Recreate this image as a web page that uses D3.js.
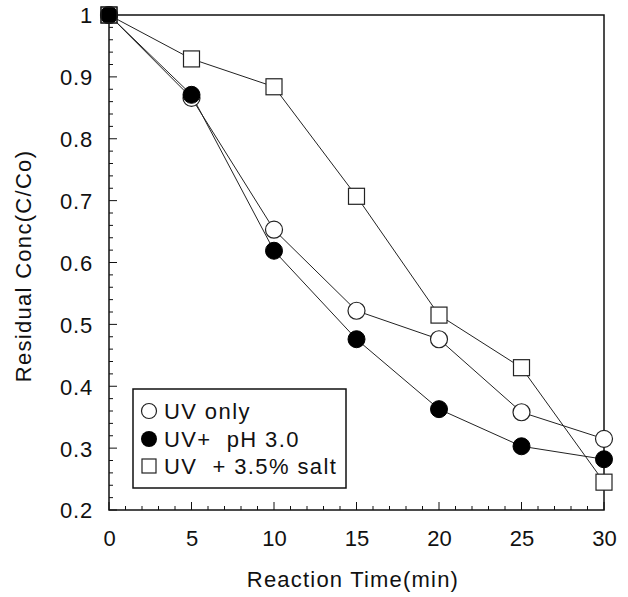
<!DOCTYPE html>
<html><head><meta charset="utf-8">
<script src="https://cdn.jsdelivr.net/npm/d3@7"></script>
<style>
html,body{margin:0;padding:0;background:#fff;}
text{font-family:"Liberation Sans",Arial,Helvetica,sans-serif;fill:#111;}
</style></head>
<body><svg id="chart" width="628" height="597"></svg>
<script>
const times = [0, 5, 10, 15, 20, 25, 30];
const uvOnly = [1.0, 0.866, 0.653, 0.522, 0.476, 0.358, 0.315];
const uvPh = [1.0, 0.871, 0.619, 0.476, 0.363, 0.303, 0.282];
const uvSalt = [1.0, 0.929, 0.884, 0.707, 0.515, 0.43, 0.245];
const xTicks = [0, 5, 10, 15, 20, 25, 30];
const yTicks = [0.2, 0.3, 0.4, 0.5, 0.6, 0.7, 0.8, 0.9, 1];
const legendLabels = ["UV only", "UV+  pH 3.0", "UV  + 3.5% salt"];
const xTitle = "Reaction Time(min)";
const yTitle = "Residual Conc(C/Co)";

const svg = d3.select("#chart");
const L = 109, R = 604, T = 15, B = 510;
const x = d3.scaleLinear().domain([0, 30]).range([L, R]);
const y = d3.scaleLinear().domain([0.2, 1]).range([B, T]);
const FONT = '"Liberation Sans",Arial,sans-serif';

// minor ticks
const xMinor = d3.range(0, 31, 1);
const yMinor = d3.range(0, 41, 1).map(i => +(0.2 + i * 0.02).toFixed(2));
const g = svg.append("g");
g.selectAll(".xm").data(xMinor).enter().append("line")
  .attr("x1", d => x(d)).attr("x2", d => x(d))
  .attr("y1", B).attr("y2", d => B - (d % 5 === 0 ? 8 : 4))
  .attr("stroke", "#111").attr("stroke-width", 1);
g.selectAll(".ym").data(yMinor).enter().append("line")
  .attr("y1", d => y(d)).attr("y2", d => y(d))
  .attr("x1", L).attr("x2", d => L + (Math.abs(d * 10 - Math.round(d * 10)) < 1e-6 ? 8 : 4))
  .attr("stroke", "#111").attr("stroke-width", 1);

// axes via d3 (labels only, frame drawn separately)
const xAxis = d3.axisBottom(x).tickValues(xTicks).tickSize(0).tickPadding(0).tickFormat(d3.format("d"));
const yAxis = d3.axisLeft(y).tickValues(yTicks).tickSize(0).tickPadding(0).tickFormat(d => d === 1 ? "1" : d3.format(".1f")(d));
const gx = svg.append("g").attr("transform", `translate(0,${B})`).call(xAxis);
gx.select(".domain").remove();
gx.selectAll("text").attr("y", 36).attr("dy", 0).attr("font-size", 22)
  .style("font-family", FONT).attr("fill", "#111");
const gy = svg.append("g").attr("transform", `translate(${L},0)`).call(yAxis);
gy.select(".domain").remove();
gy.selectAll("text").attr("x", -16).attr("dy", "0.36em").attr("font-size", 22)
  .style("font-family", FONT).attr("fill", "#111").attr("letter-spacing", 0.8);

// frame
svg.append("rect").attr("x", L).attr("y", T).attr("width", R - L).attr("height", B - T)
  .attr("fill", "none").attr("stroke", "#111").attr("stroke-width", 1.5);

// titles
svg.append("text").attr("x", 353).attr("y", 587).attr("text-anchor", "middle")
  .attr("font-size", 22).attr("letter-spacing", 1.2).text(xTitle);
svg.append("text").attr("transform", "translate(31,266) rotate(-90)").attr("text-anchor", "middle")
  .attr("font-size", 22).attr("letter-spacing", 1.3).text(yTitle);

// lines
const line = d3.line().x((d, i) => x(times[i])).y(d => y(d));
[uvSalt, uvOnly, uvPh].forEach(s => {
  svg.append("path").attr("d", line(s)).attr("fill", "none").attr("stroke", "#222").attr("stroke-width", 1);
});

// markers
const pts = s => s.map((v, i) => ({t: times[i], v}));
svg.selectAll(".sq").data(pts(uvSalt)).enter().append("rect")
  .attr("x", d => x(d.t) - 8).attr("y", d => y(d.v) - 8).attr("width", 16).attr("height", 16)
  .attr("fill", "#fff").attr("stroke", "#222").attr("stroke-width", 1.2);
svg.selectAll(".oc").data(pts(uvOnly)).enter().append("circle")
  .attr("cx", d => x(d.t)).attr("cy", d => y(d.v)).attr("r", 8.5)
  .attr("fill", "#fff").attr("stroke", "#222").attr("stroke-width", 1.2);
svg.selectAll(".fc").data(pts(uvPh)).enter().append("circle")
  .attr("cx", d => x(d.t)).attr("cy", d => y(d.v)).attr("r", 8.5)
  .attr("fill", "#000").attr("stroke", "#000").attr("stroke-width", 1);
// salt square at t=0 on top
svg.append("rect").datum(pts(uvSalt)[0])
  .attr("x", d => x(d.t) - 8).attr("y", d => y(d.v) - 8).attr("width", 16).attr("height", 16)
  .attr("fill", "none").attr("stroke", "#222").attr("stroke-width", 1.2);

// legend
const lg = svg.append("g");
lg.append("rect").attr("x", 133).attr("y", 389).attr("width", 213).attr("height", 99)
  .attr("fill", "#fff").attr("stroke", "#111").attr("stroke-width", 1.5);
const rowsY = [411, 439, 466];
lg.append("circle").attr("cx", 149).attr("cy", rowsY[0]).attr("r", 7.5).attr("fill", "#fff").attr("stroke", "#222").attr("stroke-width", 1.2);
lg.append("circle").attr("cx", 149).attr("cy", rowsY[1]).attr("r", 8).attr("fill", "#000");
lg.append("rect").attr("x", 142).attr("y", rowsY[2] - 7).attr("width", 14).attr("height", 14).attr("fill", "#fff").attr("stroke", "#222").attr("stroke-width", 1.2);
lg.selectAll(".lt").data(legendLabels).enter().append("text")
  .attr("x", 164).attr("y", (d, i) => rowsY[i] + 7.5).attr("font-size", 22).attr("letter-spacing", 1.4)
  .style("white-space", "pre").attr("xml:space", "preserve").text(d => d);
</script></body></html>
